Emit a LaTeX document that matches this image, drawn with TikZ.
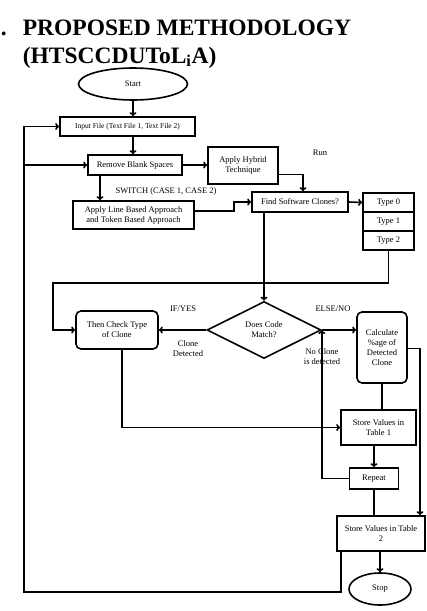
\documentclass[tikz,border=0pt]{standalone}
\usepackage{fontspec}
\setmainfont{Liberation Serif}
\usetikzlibrary{shapes.geometric, arrows.meta}

\begin{document}
\begin{tikzpicture}[x=1pt, y=-1pt, line width=1.6pt, >={To[length=4pt, width=7pt]}]

    \tikzset{block/.style={%
      draw,%
      rectangle,%
      inner sep=1pt,%
      align=center,%
      font=\fontsize{8.5}{10}\selectfont}%
    };

    \tikzset{roundblock/.style={block, rounded corners=5pt}};
    \tikzset{terminal/.style={block, ellipse}};
    \tikzset{decision/.style={block, diamond}};
    \tikzset{lbl/.style={font=\fontsize{8.5}{10}\selectfont, align=center}};

    \useasboundingbox (0,0) rectangle (427,611);

    %%%%%%%%%%%%%%%
    %    title    %
    %%%%%%%%%%%%%%%
    \node [anchor=base west, font=\fontsize{23.5}{28}\bfseries, inner sep=0] (title)
      at (22,35) {PROPOSED METHODOLOGY};
    \node [anchor=base west, font=\fontsize{23.5}{28}\bfseries, inner sep=0] (subtitle)
      at (22,63) {(HTSCCDUToL\textsubscript{i}A)};
    \node [anchor=base west, font=\fontsize{23.5}{28}\bfseries, inner sep=0] (dot)
      at (0,35) {.};

    %%%%%%%%%%%%%%%
    %   blocks    %
    %%%%%%%%%%%%%%%
    \node [terminal, minimum width=109, minimum height=32] (start) at (133,84) {Start};
    \node [block, minimum width=135, minimum height=19] (input) at (127.5,126.5)
      {\fontsize{7.5}{9}\selectfont Input File (Text File 1, Text File 2)};
    \node [block, minimum width=94, minimum height=20] (remove) at (135,165) {Remove Blank Spaces};
    \node [block, minimum width=70, minimum height=37] (hybrid) at (243,165.5) {Apply Hybrid\\Technique};
    \node [block, minimum width=121, minimum height=28] (line) at (133.5,215)
      {Apply Line Based Approach\\and Token Based Approach};
    \node [block, minimum width=96, minimum height=20] (find) at (300,202) {Find Software Clones?};
    \node [block, minimum width=51, minimum height=19] (type0) at (388.5,202.5) {Type 0};
    \node [block, minimum width=51, minimum height=19] (type1) at (388.5,221.5) {Type 1};
    \node [block, minimum width=51, minimum height=19] (type2) at (388.5,240.5) {Type 2};
    \node [decision, minimum width=114, minimum height=57, inner sep=0, shape aspect=2]
      (match) at (264,330) {Does Code\\Match?};
    \node [roundblock, minimum width=82, minimum height=38] (check) at (117,330) {Then Check Type\\of Clone};
    \node [roundblock, minimum width=50, minimum height=71] (calc) at (382,347.5)
      {Calculate\\\%age of\\Detected\\Clone};
    \node [block, minimum width=75, minimum height=35] (table1) at (378.5,427.5) {Store Values in\\Table 1};
    \node [block, minimum width=49, minimum height=21] (repeat) at (374,478.5) {Repeat};
    \node [block, minimum width=88, minimum height=35] (table2) at (381,533.5) {Store Values in Table\\2};
    \node [terminal, minimum width=62, minimum height=32] (stop) at (380,589) {Stop};

    %%%%%%%%%%%%%%%
    %   labels    %
    %%%%%%%%%%%%%%%
    \node [lbl] (run) at (320,153) {Run};
    \node [lbl] (switch) at (166,191) {SWITCH (CASE 1, CASE 2)};
    \node [lbl] (ifyes) at (183,309) {IF/YES};
    \node [lbl] (found) at (188,349) {Clone\\Detected};
    \node [lbl] (elseno) at (333,309) {ELSE/NO};
    \node [lbl] (notfound) at (322,357) {No Clone\\is detected};

    \coordinate (turn) at (53,283);
    \coordinate (back) at (24,592);

    %%%%%%%%%%%%%%%
    %   arrows    %
    %%%%%%%%%%%%%%%
    \draw [->] (start.south) -- (start.south |- input.north);
    \draw [->] (start.south |- input.south) -- (start.south |- remove.north);
    \draw [->] (remove.east) -- (remove.east -| hybrid.west);
    \draw [->] ([yshift=-9]hybrid.east) -| ([xshift=3]find.north);
    \draw [->] ([xshift=-35]remove.south) -- ([xshift=-35]remove.south |- line.north);
    \draw [->] ([yshift=4]line.east) -- ++(39,0) |- (find.west);
    \draw [->] (find.east) -- (type0.west);
    \draw [->] (find.south -| match.north) -- (match.north);
    \draw [->] (type2.south) |- (turn) |- (check.west);
    \draw [->] (match.west) -- (check.east);
    \draw [->] (match.east) -- (match.east -| calc.west);
    \draw [->] ([yshift=-1]calc.east) -| ([xshift=39]table2.north);
    \draw (calc.south) -- (calc.south |- table1.north);
    \draw [->] ([xshift=5]check.south) |- (table1.west);
    \draw [->] (table1.south -| repeat.north) -- (repeat.north);
    \draw (repeat.south) -- (repeat.south |- table2.north);
    \draw [->] (repeat.west) -| (match.east);
    \draw [->] (stop.north |- table2.south) -- (stop.north);
    \draw [->] ([xshift=-40]table2.south) |- (back) |- (input.west);
    \draw [->] (back |- remove.west) -- (remove.west);

  \end{tikzpicture}
\end{document}
